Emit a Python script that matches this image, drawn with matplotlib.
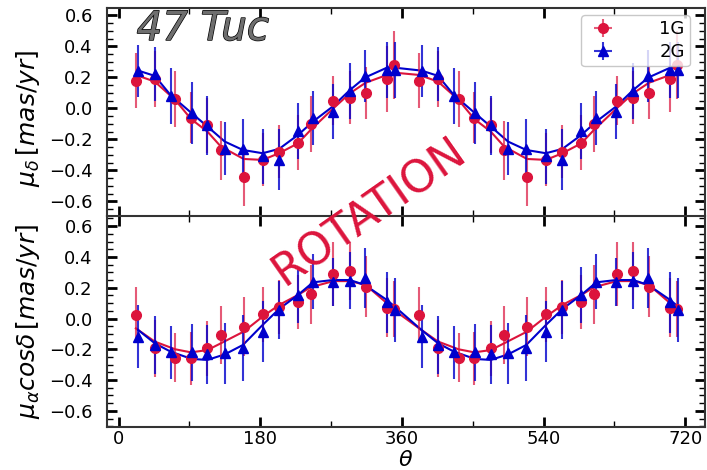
import numpy as np
import matplotlib
matplotlib.use("Agg")
import matplotlib.pyplot as plt
import matplotlib.patheffects as pe
from matplotlib.ticker import MultipleLocator

# ---------------- data (one 0-360 cycle, repeated at +360 as in the chart) ----
theta_1g = [22, 46, 72, 92, 113, 130, 159, 183, 204, 228, 244, 273, 294, 314, 341, 350]
theta_2g = [25, 46, 66, 93, 113, 135, 158, 183, 204, 228, 247, 272, 294, 313, 341, 351]

# mu_delta (top panel)
mud_1g = [0.18, 0.19, 0.06, -0.06, -0.11, -0.27, -0.44, -0.33, -0.28, -0.22, -0.10, 0.05, 0.07, 0.10, 0.19, 0.28]
mud_1g_err = [0.18, 0.18, 0.18, 0.165, 0.18, 0.19, 0.19, 0.17, 0.17, 0.18, 0.18, 0.16, 0.17, 0.17, 0.21, 0.22]
mud_2g = [0.24, 0.22, 0.08, -0.03, -0.11, -0.26, -0.26, -0.31, -0.33, -0.145, -0.06, -0.02, 0.11, 0.21, 0.25, 0.25]
mud_2g_err = [0.167, 0.175, 0.18, 0.20, 0.19, 0.17, 0.19, 0.18, 0.195, 0.18, 0.175, 0.18, 0.18, 0.17, 0.18, 0.18]
mud_1g_fit = [0.216, 0.173, 0.055, -0.068, -0.15, -0.246, -0.326, -0.332, -0.289, -0.225, -0.139, 0.001, 0.098, 0.166, 0.216, 0.231]
mud_2g_fit = [0.244, 0.21, 0.087, -0.031, -0.117, -0.214, -0.268, -0.289, -0.261, -0.171, -0.085, 0.012, 0.119, 0.199, 0.263, 0.263]

# mu_alpha cos(delta) (bottom panel)
mua_1g = [0.023, -0.194, -0.254, -0.259, -0.194, -0.107, -0.053, 0.027, 0.077, 0.109, 0.157, 0.289, 0.308, 0.206, 0.070, 0.062]
mua_1g_err = [0.184, 0.184, 0.157, 0.173, 0.177, 0.186, 0.19, 0.18, 0.175, 0.176, 0.19, 0.205, 0.187, 0.197, 0.19, 0.18]
mua_2g = [-0.118, -0.172, -0.22, -0.22, -0.233, -0.226, -0.194, -0.085, 0.055, 0.153, 0.239, 0.239, 0.245, 0.261, 0.105, 0.055]
mua_2g_err = [0.206, 0.19, 0.173, 0.184, 0.19, 0.2, 0.215, 0.198, 0.19, 0.182, 0.18, 0.156, 0.184, 0.196, 0.2, 0.208]
mua_1g_fit = [-0.064, -0.15, -0.2, -0.22, -0.205, -0.161, -0.085, 0.012, 0.088, 0.153, 0.203, 0.243, 0.243, 0.218, 0.099, 0.055]
mua_2g_fit = [-0.075, -0.161, -0.215, -0.263, -0.269, -0.233, -0.172, -0.042, 0.062, 0.153, 0.235, 0.25, 0.25, 0.218, 0.12, 0.077]

x_ticks = [0, 180, 360, 540, 720]
labels = ["1G", "2G"]

RED = "#dc143c"
BLUE = "#0000cd"
RED_E = (0.86, 0.08, 0.24, 0.7)
BLUE_E = (0.0, 0.0, 0.8, 0.8)


def two_cycles(th):
    th = np.asarray(th, float)
    return np.concatenate([th, th + 360])


def rep(v):
    return np.concatenate([np.asarray(v, float)] * 2)


fig = plt.figure(figsize=(7.07, 4.70), dpi=100)
ax1 = fig.add_axes([0.151, 0.5404, 0.846, 0.4426])
ax2 = fig.add_axes([0.151, 0.0915, 0.846, 0.4489], sharex=ax1)


def panel(ax, y1, e1, f1, y2, e2, f2, ylim):
    x1 = two_cycles(theta_1g)
    x2 = two_cycles(theta_2g)
    ax.plot(x1, rep(f1), color=RED, lw=1.5, zorder=3)
    ax.plot(x2, rep(f2), color=BLUE, lw=1.5, zorder=3)
    ax.errorbar(x1, rep(y1), yerr=rep(e1), fmt="o", color=RED, ms=7,
                ecolor=RED_E, elinewidth=1.5, capsize=0, zorder=4)
    ax.errorbar(x2, rep(y2), yerr=rep(e2), fmt="^", color=BLUE, ms=7,
                ecolor=BLUE_E, elinewidth=1.5, capsize=0, zorder=4)
    ax.set_ylim(*ylim)
    ax.set_xlim(-15, 745)
    ax.xaxis.set_major_locator(MultipleLocator(180))
    ax.xaxis.set_minor_locator(MultipleLocator(90))
    ax.yaxis.set_major_locator(MultipleLocator(0.2))
    ax.yaxis.set_minor_locator(MultipleLocator(0.05))
    ax.tick_params(which="both", direction="in", top=True, right=True,
                   labelsize=13, colors="black")
    ax.tick_params(axis="y", pad=10)
    ax.tick_params(which="major", length=7, width=2)
    ax.tick_params(which="minor", length=4, width=1)
    for s in ax.spines.values():
        s.set_color("#333333")
        s.set_linewidth(1.5)


panel(ax1, mud_1g, mud_1g_err, mud_1g_fit, mud_2g, mud_2g_err, mud_2g_fit, (-0.694, 0.648))
panel(ax2, mua_1g, mua_1g_err, mua_1g_fit, mua_2g, mua_2g_err, mua_2g_fit, (-0.705, 0.666))
ax1.spines["bottom"].set_visible(False)

ax1.tick_params(labelbottom=False)
ax2.set_xticks(x_ticks)
ax2.set_xticklabels([str(t) for t in x_ticks])
ax2.tick_params(axis="x", pad=2)

ax1.set_ylabel(r"$\mu_{\delta}\,[mas/yr]$", fontsize=18)
ax2.set_ylabel(r"$\mu_{\alpha}cos\delta\,[mas/yr]$", fontsize=18)
ax1.yaxis.set_label_coords(-0.108, 0.47)
ax2.yaxis.set_label_coords(-0.108, 0.5)
ax2.set_xlabel(r"$\theta$", fontsize=16, va="center")
ax2.xaxis.set_label_coords(0.5, -0.158)

# legend proxies (errorbar handles with cross bars, as in the chart)
h1 = ax1.errorbar([np.nan], [np.nan], xerr=[1], yerr=[1], fmt="o", color=RED, ms=7,
                  ecolor=RED_E, elinewidth=1.5, label=labels[0])
h2 = ax1.errorbar([np.nan], [np.nan], xerr=[1], yerr=[1], fmt="^", color=BLUE, ms=7,
                  ecolor=BLUE_E, elinewidth=1.5, label=labels[1])
ax1.legend(handles=[h1, h2], loc="upper right", fontsize=13, handletextpad=2.2,
           borderpad=0.3, labelspacing=0.25, handlelength=1.8, borderaxespad=0,
           frameon=True, edgecolor="#bbbbbb", bbox_to_anchor=(0.975, 0.966))

ax1.text(0.05, 0.995, "47 Tuc", transform=ax1.transAxes, fontsize=29,
         style="italic", color="#6e6e6e", va="top", ha="left",
         path_effects=[pe.Stroke(linewidth=1.0, foreground="black"), pe.Normal()])

fig.text(0.523, 0.55, "ROTATION", fontsize=32, color=RED, rotation=35,
         ha="center", va="center", zorder=10)

fig.savefig("out.png", dpi=100)
